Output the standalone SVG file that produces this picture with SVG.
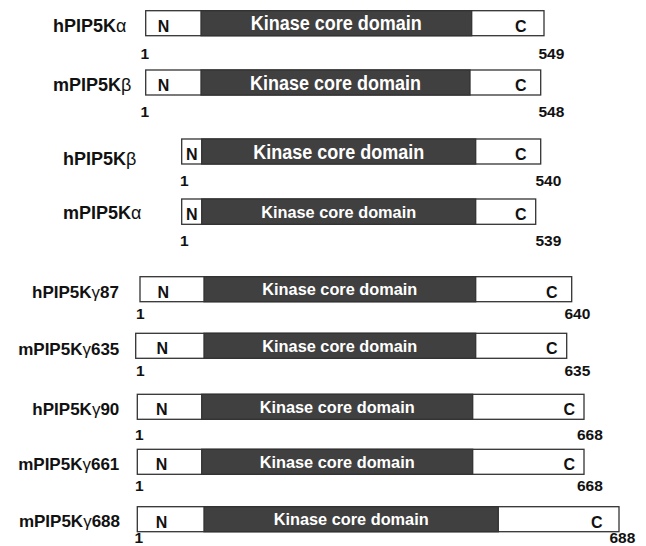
<svg xmlns="http://www.w3.org/2000/svg" width="646" height="546" viewBox="0 0 646 546">
  <style>
    text { font-family: "Liberation Sans", Arial, sans-serif; font-weight: bold; fill: #111; }
    .bar { fill: #ffffff; stroke: #333333; stroke-width: 1.3; }
    .core { fill: #404040; stroke: #333333; stroke-width: 1.3; }
    .name { font-size: 18px; }
    .name2 { font-size: 17px; text-anchor: end; }
    .gk { font-weight: normal; }
    .term { font-size: 16px; text-anchor: middle; }
    .kin { font-size: 20px; fill: #ffffff; text-anchor: middle; }
    .kin2 { font-size: 16.5px; fill: #ffffff; text-anchor: middle; }
    .num { font-size: 15.5px; }
  </style>
  <rect width="646" height="546" fill="#ffffff"/>

  <!-- hPIP5K alpha, 549 aa -->
  <g id="hPIP5Ka">
    <text class="name" x="53" y="32.3">hPIP5K<tspan class="gk">α</tspan></text>
    <rect class="bar" x="145.7" y="10.7" width="398.3" height="25"/>
    <rect class="core" x="201" y="10.7" width="270.7" height="25"/>
    <text class="term" x="163.5" y="31.5">N</text>
    <text class="kin" x="336.3" y="30.4" textLength="171" lengthAdjust="spacingAndGlyphs">Kinase core domain</text>
    <text class="term" x="520.7" y="31.5">C</text>
    <text class="num" x="140.5" y="59.3">1</text>
    <text class="num" x="538.5" y="59.3">549</text>
  </g>

  <!-- mPIP5K beta, 548 aa -->
  <g id="mPIP5Kb">
    <text class="name" x="53" y="91">mPIP5K<tspan class="gk">β</tspan></text>
    <rect class="bar" x="145.7" y="70" width="395" height="25"/>
    <rect class="core" x="201" y="70" width="269" height="25"/>
    <text class="term" x="163.5" y="90.8">N</text>
    <text class="kin" x="335.5" y="89.7" textLength="171" lengthAdjust="spacingAndGlyphs">Kinase core domain</text>
    <text class="term" x="520.7" y="90.8">C</text>
    <text class="num" x="140.5" y="117">1</text>
    <text class="num" x="538.5" y="117">548</text>
  </g>

  <!-- hPIP5K beta, 540 aa -->
  <g id="hPIP5Kb">
    <text class="name" x="63" y="165">hPIP5K<tspan class="gk">β</tspan></text>
    <rect class="bar" x="181.7" y="139" width="359" height="25"/>
    <rect class="core" x="201.7" y="139" width="274" height="25"/>
    <text class="term" x="191.7" y="159.8">N</text>
    <text class="kin" x="338.7" y="158.7" textLength="171" lengthAdjust="spacingAndGlyphs">Kinase core domain</text>
    <text class="term" x="520.7" y="159.8">C</text>
    <text class="num" x="180" y="185.5">1</text>
    <text class="num" x="535.5" y="185.5">540</text>
  </g>

  <!-- mPIP5K alpha, 539 aa -->
  <g id="mPIP5Ka">
    <text class="name" x="63" y="219.3">mPIP5K<tspan class="gk">α</tspan></text>
    <rect class="bar" x="181.7" y="199" width="354" height="25.3"/>
    <rect class="core" x="201.7" y="199" width="274" height="25.3"/>
    <text class="term" x="191.7" y="219.8">N</text>
    <text class="kin2" x="338.7" y="217.7" textLength="155" lengthAdjust="spacingAndGlyphs">Kinase core domain</text>
    <text class="term" x="520.7" y="219.8">C</text>
    <text class="num" x="180" y="245.7">1</text>
    <text class="num" x="535.5" y="245.7">539</text>
  </g>

  <!-- hPIP5K gamma87, 640 aa -->
  <g id="hPIP5Kg87">
    <text class="name2" x="119" y="298.3">hPIP5K<tspan class="gk">γ</tspan>87</text>
    <rect class="bar" x="140" y="276.7" width="431.7" height="25"/>
    <rect class="core" x="204" y="276.7" width="271.7" height="25"/>
    <text class="term" x="163.3" y="297.5">N</text>
    <text class="kin2" x="339.8" y="295.2" textLength="155" lengthAdjust="spacingAndGlyphs">Kinase core domain</text>
    <text class="term" x="551.7" y="297.5">C</text>
    <text class="num" x="136" y="319">1</text>
    <text class="num" x="564.5" y="319">640</text>
  </g>

  <!-- mPIP5K gamma635, 635 aa -->
  <g id="mPIP5Kg635">
    <text class="name2" x="119.3" y="355">mPIP5K<tspan class="gk">γ</tspan>635</text>
    <rect class="bar" x="135.7" y="333.3" width="431" height="25"/>
    <rect class="core" x="204" y="333.3" width="271.7" height="25"/>
    <text class="term" x="162.3" y="354.1">N</text>
    <text class="kin2" x="339.8" y="351.8" textLength="155" lengthAdjust="spacingAndGlyphs">Kinase core domain</text>
    <text class="term" x="551.7" y="354.1">C</text>
    <text class="num" x="136" y="376">1</text>
    <text class="num" x="564.5" y="376">635</text>
  </g>

  <!-- hPIP5K gamma90, 668 aa -->
  <g id="hPIP5Kg90">
    <text class="name2" x="119.3" y="415">hPIP5K<tspan class="gk">γ</tspan>90</text>
    <rect class="bar" x="137.3" y="394.3" width="446.7" height="25"/>
    <rect class="core" x="201.7" y="394.3" width="271" height="25"/>
    <text class="term" x="161.7" y="415.1">N</text>
    <text class="kin2" x="337.2" y="412.8" textLength="155" lengthAdjust="spacingAndGlyphs">Kinase core domain</text>
    <text class="term" x="569.3" y="415.1">C</text>
    <text class="num" x="135" y="440">1</text>
    <text class="num" x="577" y="440">668</text>
  </g>

  <!-- mPIP5K gamma661, 668 aa -->
  <g id="mPIP5Kg661">
    <text class="name2" x="119.3" y="470">mPIP5K<tspan class="gk">γ</tspan>661</text>
    <rect class="bar" x="137.3" y="449.3" width="446.7" height="25"/>
    <rect class="core" x="201.7" y="449.3" width="271" height="25"/>
    <text class="term" x="161.5" y="470.1">N</text>
    <text class="kin2" x="337.2" y="467.8" textLength="155" lengthAdjust="spacingAndGlyphs">Kinase core domain</text>
    <text class="term" x="569.3" y="470.1">C</text>
    <text class="num" x="135" y="491">1</text>
    <text class="num" x="577" y="491">668</text>
  </g>

  <!-- mPIP5K gamma688, 688 aa -->
  <g id="mPIP5Kg688">
    <text class="name2" x="120" y="526.7">mPIP5K<tspan class="gk">γ</tspan>688</text>
    <rect class="bar" x="137.3" y="506.7" width="481.7" height="25"/>
    <rect class="core" x="204" y="506.7" width="294.3" height="25"/>
    <text class="term" x="161.5" y="527.5">N</text>
    <text class="kin2" x="351.2" y="525.2" textLength="155" lengthAdjust="spacingAndGlyphs">Kinase core domain</text>
    <text class="term" x="596.7" y="527.5">C</text>
    <text class="num" x="134.5" y="543">1</text>
    <text class="num" x="609.5" y="543">688</text>
  </g>

  <g id="connectors"/>
</svg>
